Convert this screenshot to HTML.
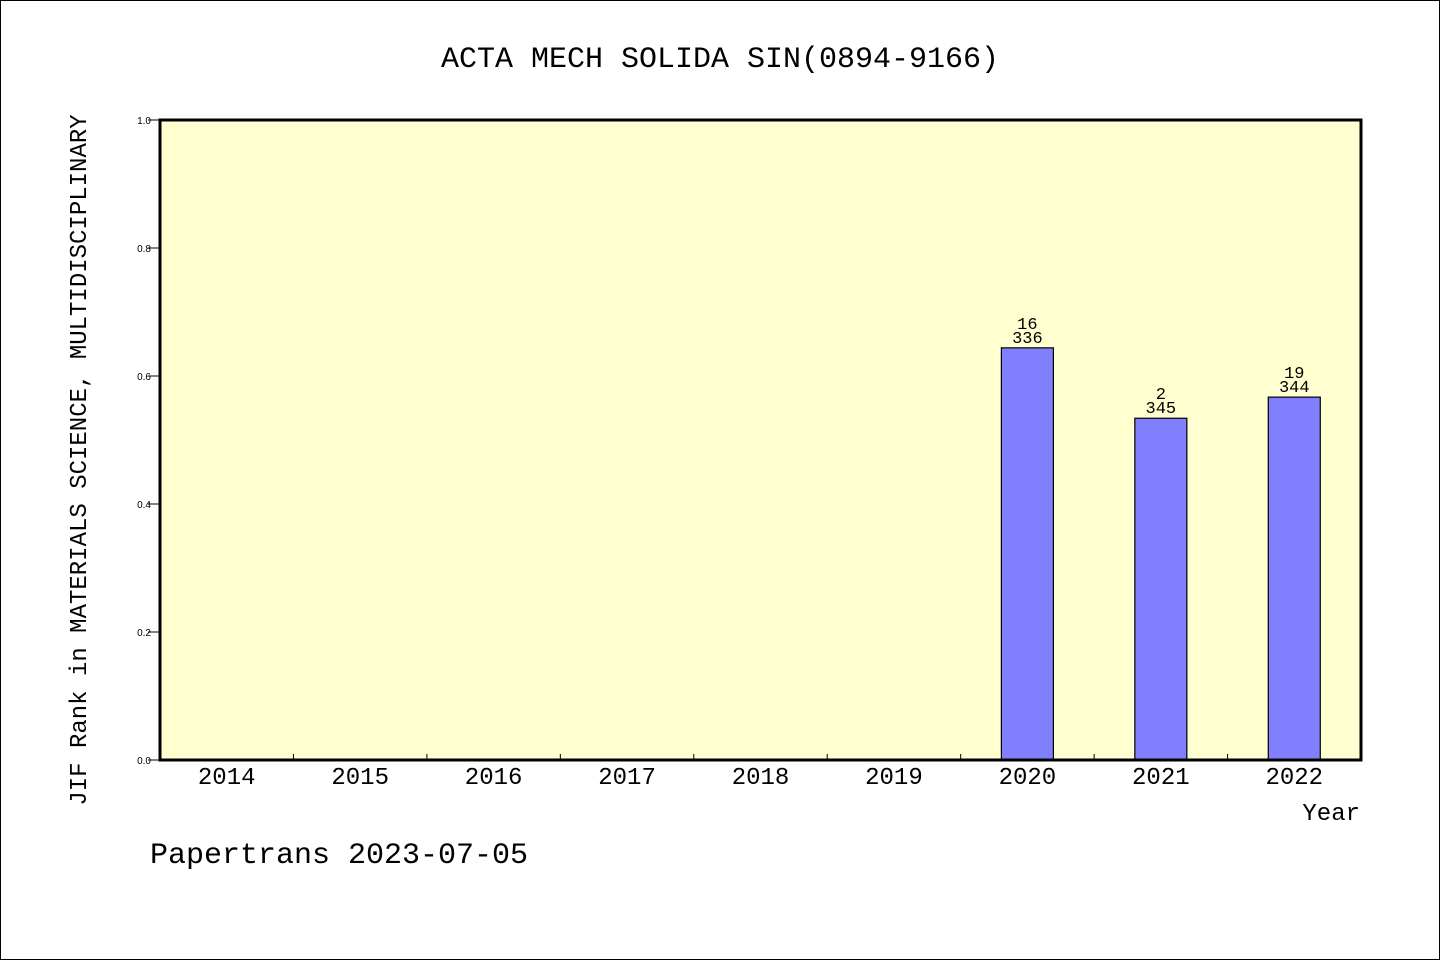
<!DOCTYPE html>
<html><head><meta charset="utf-8">
<style>
html,body{margin:0;padding:0;background:#fff;}
svg{display:block;}
text{font-family:"WenQuanYi Zen Hei","Liberation Mono",monospace;fill:#000;}
</style></head>
<body>
<svg id="chart" width="1440" height="960" xmlns="http://www.w3.org/2000/svg">
<rect x="0.5" y="0.5" width="1439" height="959" fill="#fff" stroke="#000"/>
<text x="720" y="67" font-size="30" text-anchor="middle">ACTA MECH SOLIDA SIN(0894-9166)</text>
<rect x="160" y="120" width="1201" height="640" fill="#ffffd0"/>
<g id="bars"></g>
<g id="xaxis"></g>
<g id="yaxis"></g>
<rect x="160" y="120" width="1201" height="640" fill="none" stroke="#000" stroke-width="3"/>
<text x="1360" y="820" font-size="24" text-anchor="end">Year</text>
<text transform="translate(86,460) rotate(-90)" font-size="24" text-anchor="middle">JIF Rank in MATERIALS SCIENCE, MULTIDISCIPLINARY</text>
<text x="150" y="863" font-size="30">Papertrans 2023-07-05</text>
</svg>
<script>
const categories = ["2014","2015","2016","2017","2018","2019","2020","2021","2022"];
const values = [null,null,null,null,null,null,0.644,0.534,0.567];
const ranks = [null,null,null,null,null,null,"16","2","19"];
const totals = [null,null,null,null,null,null,"336","345","344"];
const yTicks = [0,0.2,0.4,0.6,0.8,1.0];
const yTickLabels = ["0.0","0.2","0.4","0.6","0.8","1.0"];

const NS="http://www.w3.org/2000/svg";
const L=160,R=1361,T=120,B=760;
const bw=(R-L)/categories.length;
const xC=i=>L+bw*(i+0.5);
const y=v=>B-(v-0)/(1-0)*(B-T);
function mk(tag,attrs,parent,txt){const e=document.createElementNS(NS,tag);for(const k in attrs)e.setAttribute(k,attrs[k]);if(txt!==undefined)e.textContent=txt;parent.appendChild(e);return e;}
const gb=document.getElementById('bars'),gx=document.getElementById('xaxis'),gy=document.getElementById('yaxis');
categories.forEach((c,i)=>{
  const t=mk('text',{x:xC(i),y:784,'font-size':24,'text-anchor':'middle'},gx,c);
  
  
  if(i>0){const tk=mk('line',{x1:L+bw*i,x2:L+bw*i,y1:B,y2:B-6,stroke:'#000','stroke-width':1},gx);
    
    }
  if(values[i]!=null){
    const w=52,top=y(values[i]);
    const r=mk('rect',{x:xC(i)-w/2,y:top,width:w,height:B-top,fill:'#8080ff',stroke:'#000','stroke-width':1.2},gb);
    
    
    const a=mk('text',{x:xC(i),y:top-19,'font-size':17,'text-anchor':'middle'},gb,ranks[i]);
    
    
    const b=mk('text',{x:xC(i),y:top-5,'font-size':17,'text-anchor':'middle'},gb,totals[i]);
    
    
  }
});
yTicks.forEach((v,i)=>{
  const tk=mk('line',{x1:L-12,x2:L,y1:y(v),y2:y(v),stroke:'#000','stroke-width':1},gy);
  
  
  const t=mk('text',{x:L-9,y:y(v)+4,'font-size':10,'text-anchor':'end',style:'font-family:"Liberation Sans",sans-serif'},gy,yTickLabels[i]);
  
  
});
</script>
</body></html>
